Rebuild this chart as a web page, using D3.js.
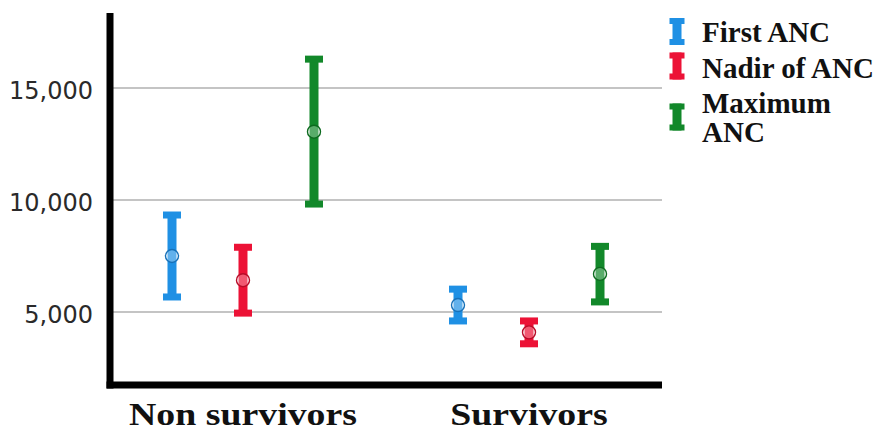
<!DOCTYPE html>
<html>
<head>
<meta charset="utf-8">
<script src="https://cdn.jsdelivr.net/npm/d3@7/dist/d3.min.js"></script>
<style>
  html, body { margin: 0; padding: 0; background: #fff; }
  svg { display: block; }
</style>
</head>
<body>
<svg id="chart" width="887" height="433"></svg>
<script>
// Groups on the x axis
const groups = ["Non survivors", "Survivors"];
// Measures plotted inside each group
const measures = ["First ANC", "Nadir of ANC", "Maximum ANC"];
const measureColors = ["#1f90e4", "#ec1236", "#12882a"];
const measureStrokes = ["#1670b8", "#b80c28", "#0c6a1e"];

// Mean ANC per measure, one array per group
const meanNonSurvivors = [7500, 6420, 13050];
const meanSurvivors = [5310, 4090, 6700];
// 95% CI bounds
const lowNonSurvivors = [5670, 4950, 9820];
const highNonSurvivors = [9330, 7890, 16290];
const lowSurvivors = [4600, 3580, 5450];
const highSurvivors = [6020, 4600, 7930];

// Y tick values
const yTicks = [5000, 10000, 15000];

const svg = d3.select("#chart");

const plot = { left: 110, right: 662, top: 13, bottom: 385 };

const y = d3.scaleLinear().domain([1740, 18350]).range([plot.bottom, plot.top]);
const x = d3.scalePoint().domain(groups).range([plot.left, plot.right]).padding(0.465);
const xSub = d3.scalePoint().domain(measures).range([-71, 71]);

const rows = [];
const means = [meanNonSurvivors, meanSurvivors];
const lows = [lowNonSurvivors, lowSurvivors];
const highs = [highNonSurvivors, highSurvivors];
groups.forEach((g, gi) => {
  measures.forEach((m, mi) => {
    rows.push({ group: g, measure: m, mi,
      mean: means[gi][mi], low: lows[gi][mi], high: highs[gi][mi] });
  });
});

// Gridlines
svg.append("g")
  .selectAll("line")
  .data(yTicks)
  .join("line")
  .attr("x1", plot.left)
  .attr("x2", plot.right)
  .attr("y1", d => y(d))
  .attr("y2", d => y(d))
  .attr("stroke", "#c4c4c4")
  .attr("stroke-width", 2);

// Y axis tick labels
const yAxis = d3.axisLeft(y)
  .tickValues(yTicks)
  .tickFormat(d3.format(","))
  .tickSize(0)
  .tickPadding(17);
const gy = svg.append("g")
  .attr("transform", `translate(${plot.left},0)`)
  .call(yAxis);
gy.select(".domain").remove();
gy.selectAll("text")
  .attr("font-family", "'DejaVu Sans', sans-serif")
  .attr("font-size", 24)
  .attr("fill", "#2a2a2a")
  .attr("dy", "0.45em");

// Error bars: stem, two caps and an open circle at the mean
const capW = 18, capH = 7, stemW = 9;
const bars = svg.append("g")
  .selectAll("g")
  .data(rows)
  .join("g")
  .attr("transform", d => `translate(${x(d.group) + xSub(d.measure)},0)`);

bars.append("rect")
  .attr("x", -stemW / 2)
  .attr("width", stemW)
  .attr("y", d => y(d.high))
  .attr("height", d => y(d.low) - y(d.high))
  .attr("fill", d => measureColors[d.mi]);

bars.append("rect")
  .attr("x", -capW / 2)
  .attr("width", capW)
  .attr("y", d => y(d.high) - capH / 2)
  .attr("height", capH)
  .attr("fill", d => measureColors[d.mi]);

bars.append("rect")
  .attr("x", -capW / 2)
  .attr("width", capW)
  .attr("y", d => y(d.low) - capH / 2)
  .attr("height", capH)
  .attr("fill", d => measureColors[d.mi]);

bars.append("circle")
  .attr("cx", 0)
  .attr("cy", d => y(d.mean))
  .attr("r", 6.5)
  .attr("fill", "rgba(255,255,255,0.3)")
  .attr("stroke", d => measureStrokes[d.mi])
  .attr("stroke-width", 1.4);

// Axis lines
svg.append("line")
  .attr("x1", plot.left).attr("x2", plot.left)
  .attr("y1", plot.top).attr("y2", plot.bottom + 3.5)
  .attr("stroke", "#000").attr("stroke-width", 7);
svg.append("line")
  .attr("x1", plot.left - 3.5).attr("x2", plot.right)
  .attr("y1", plot.bottom).attr("y2", plot.bottom)
  .attr("stroke", "#000").attr("stroke-width", 7);

// Group labels
svg.append("g")
  .selectAll("text")
  .data(groups)
  .join("text")
  .attr("transform", d => `translate(${x(d)},425) scale(1.22,1)`)
  .attr("text-anchor", "middle")
  .attr("font-family", "'Liberation Serif', 'Times New Roman', serif")
  .attr("font-weight", "bold")
  .attr("font-size", 31)
  .attr("fill", "#111")
  .text(d => d);

// Legend
const legendItems = [
  { lines: ["First ANC"], cy: 31.5, base: 42 },
  { lines: ["Nadir of ANC"], cy: 66, base: 78 },
  { lines: ["Maximum", "ANC"], cy: 117, base: 113 }
];
const legend = svg.append("g");
legendItems.forEach((item, i) => {
  const g = legend.append("g").attr("transform", `translate(677,${item.cy})`);
  const h = 27;
  g.append("rect").attr("x", -4.5).attr("width", 9).attr("y", -h / 2).attr("height", h)
    .attr("fill", measureColors[i]);
  g.append("rect").attr("x", -7.5).attr("width", 15).attr("y", -h / 2).attr("height", 6)
    .attr("fill", measureColors[i]);
  g.append("rect").attr("x", -7.5).attr("width", 15).attr("y", h / 2 - 6).attr("height", 6)
    .attr("fill", measureColors[i]);
  const t = legend.append("text")
    .attr("x", 702)
    .attr("y", item.base)
    .attr("font-family", "'Liberation Serif', 'Times New Roman', serif")
    .attr("font-weight", "bold")
    .attr("font-size", 29)
    .attr("fill", "#111");
  item.lines.forEach((ln, li) => {
    t.append("tspan").attr("x", 702).attr("dy", li === 0 ? 0 : 29).text(ln);
  });
});
</script>
</body>
</html>
